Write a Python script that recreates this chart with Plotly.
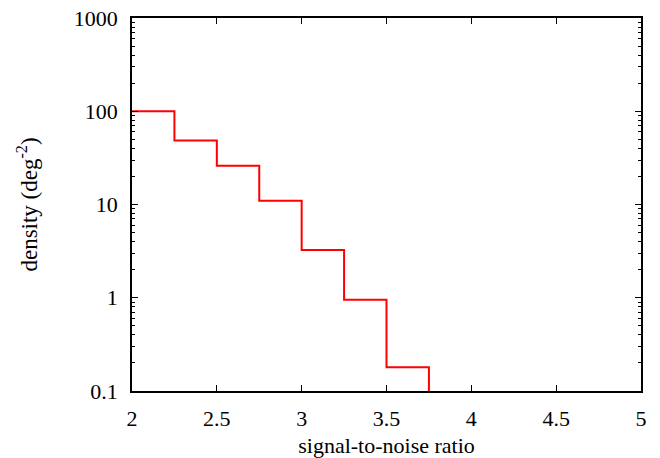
import plotly.graph_objects as go

bin_edges = [2.0, 2.25, 2.5, 2.75, 3.0, 3.25, 3.5, 3.75, 4.0]
density = [100, 48.5, 26, 11, 3.25, 0.95, 0.18, 0.001]

x_ticks = [2, 2.5, 3, 3.5, 4, 4.5, 5]
x_labels = ["2", "2.5", "3", "3.5", "4", "4.5", "5"]
y_ticks = [0.1, 1, 10, 100, 1000]
y_labels = ["0.1", "1", "10", "100", "1000"]
y_minor = [m * d for d in [0.1, 1, 10, 100] for m in range(2, 10)]

xs = bin_edges[:-1] + [bin_edges[-1]]
ys = density + [density[-1]]

font = dict(family="Liberation Serif", size=22, color="black")
ytitle_font = dict(family="Liberation Serif", size=23, color="black")

fig = go.Figure()
fig.add_trace(go.Scatter(x=xs, y=ys, mode="lines", line=dict(shape="hv", color="#ff0000", width=2),
                         showlegend=False))

fig.update_layout(
    width=660, height=458,
    margin=dict(l=132, r=19, t=18, b=67, autoexpand=False),
    paper_bgcolor="white", plot_bgcolor="white",
    font=font,
    xaxis=dict(range=[2, 5], tickvals=x_ticks, ticktext=x_labels, ticks="inside", ticklen=6,
               tickcolor="black", tickwidth=1, mirror="ticks", showline=True, linecolor="black",
               linewidth=1.5, showgrid=False, zeroline=False, automargin=False, tickfont=font,
               title=dict(text="signal-to-noise ratio", standoff=14, font=font), ticklabelstandoff=7),
    yaxis=dict(type="log", range=[-1, 3], tickvals=y_ticks, ticktext=y_labels, ticks="inside", ticklen=6,
               tickcolor="black", tickwidth=1, mirror="ticks", showline=True, linecolor="black",
               linewidth=1.5, showgrid=False, zeroline=False, automargin=False, tickfont=font,
               minor=dict(tickvals=y_minor, ticks="inside", ticklen=3, tickcolor="black", showgrid=False),
               title=dict(text="density (deg<sup>-2</sup>)", standoff=30, font=ytitle_font),
               ticklabelstandoff=8),
)

fig.write_html(
    "out.html",
    config={"displayModeBar": False},
    post_script="document.body.style.margin='0';document.body.style.padding='0';",
)
